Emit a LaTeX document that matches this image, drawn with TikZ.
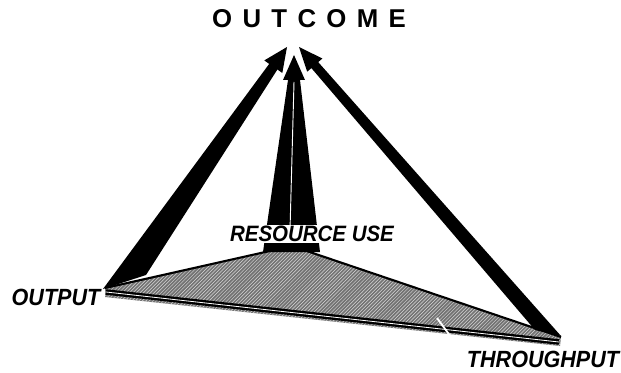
\documentclass[tikz,border=0pt]{standalone}
\usepackage{fontspec}
\setmainfont{Liberation Sans}
\usetikzlibrary{patterns}

\tikzset{
  corner/.style={font=\fontsize{20}{24}\selectfont\bfseries\itshape, inner sep=1pt},
  spike/.style={fill=black},
}
\newcommand{\narrow}[1]{\scalebox{0.92}[1]{#1}}

\begin{document}
\begin{tikzpicture}[x=0.03cm,y=-0.03cm]
  \useasboundingbox (0,0) rectangle (621,373);

  % base of the pyramid
  \coordinate (L) at (105,288);
  \coordinate (B) at (292,246);
  \coordinate (R) at (561,337);
  \coordinate (Rf) at (560,346);
  \coordinate (Lf) at (105,297);

  \fill[black!55] (L) -- (B) -- (R) -- (Rf) -- (Lf) -- cycle;
  \fill[pattern=north east lines, pattern color=white!85!black] (L) -- (B) -- (R) -- (Rf) -- (Lf) -- cycle;
  \draw[line width=1.8pt, line join=round] (L) -- (B) -- (R);
  \draw[line width=2pt, double=white, double distance=0.7pt] (106,292) -- (559,342);
  \draw[white, line width=1.6pt] (437,318) -- (451,337);

  % left spike, from OUTPUT
  \fill[spike] (103,289) -- (269.2,63.9) -- (264.3,60.4) -- (287,47)
    -- (282.3,73.0) -- (277.4,69.5) -- (146,275) -- cycle;

  % middle spike, from RESOURCE USE
  \fill[spike] (263,252) -- (288,80) -- (283,80) -- (294,55)
    -- (305,80) -- (300,80) -- (320,252) -- cycle;
  \draw[white, line width=0.8pt] (294,82) -- (290,230);

  % right spike, from THROUGHPUT
  \fill[spike] (535,330) -- (311.4,68.1) -- (307.2,71.7) -- (299,47)
    -- (322.4,58.5) -- (318.2,62.1) -- (561,336) -- cycle;

  % labels
  \node[font=\fontsize{22}{26}\selectfont\bfseries\addfontfeatures{LetterSpace=40}] (outcome)
    at (309,19) {OUTCOME};
  \node[corner, font=\fontsize{19}{23}\selectfont\bfseries\itshape, fill=white] (resuse)
    at (312,234) {\narrow{RESOURCE USE}};
  \node[corner] (output) at (56,297) {\narrow{OUTPUT}};
  \node[corner] (thruput) at (543,359) {\narrow{THROUGHPUT}};
\end{tikzpicture}
\end{document}
